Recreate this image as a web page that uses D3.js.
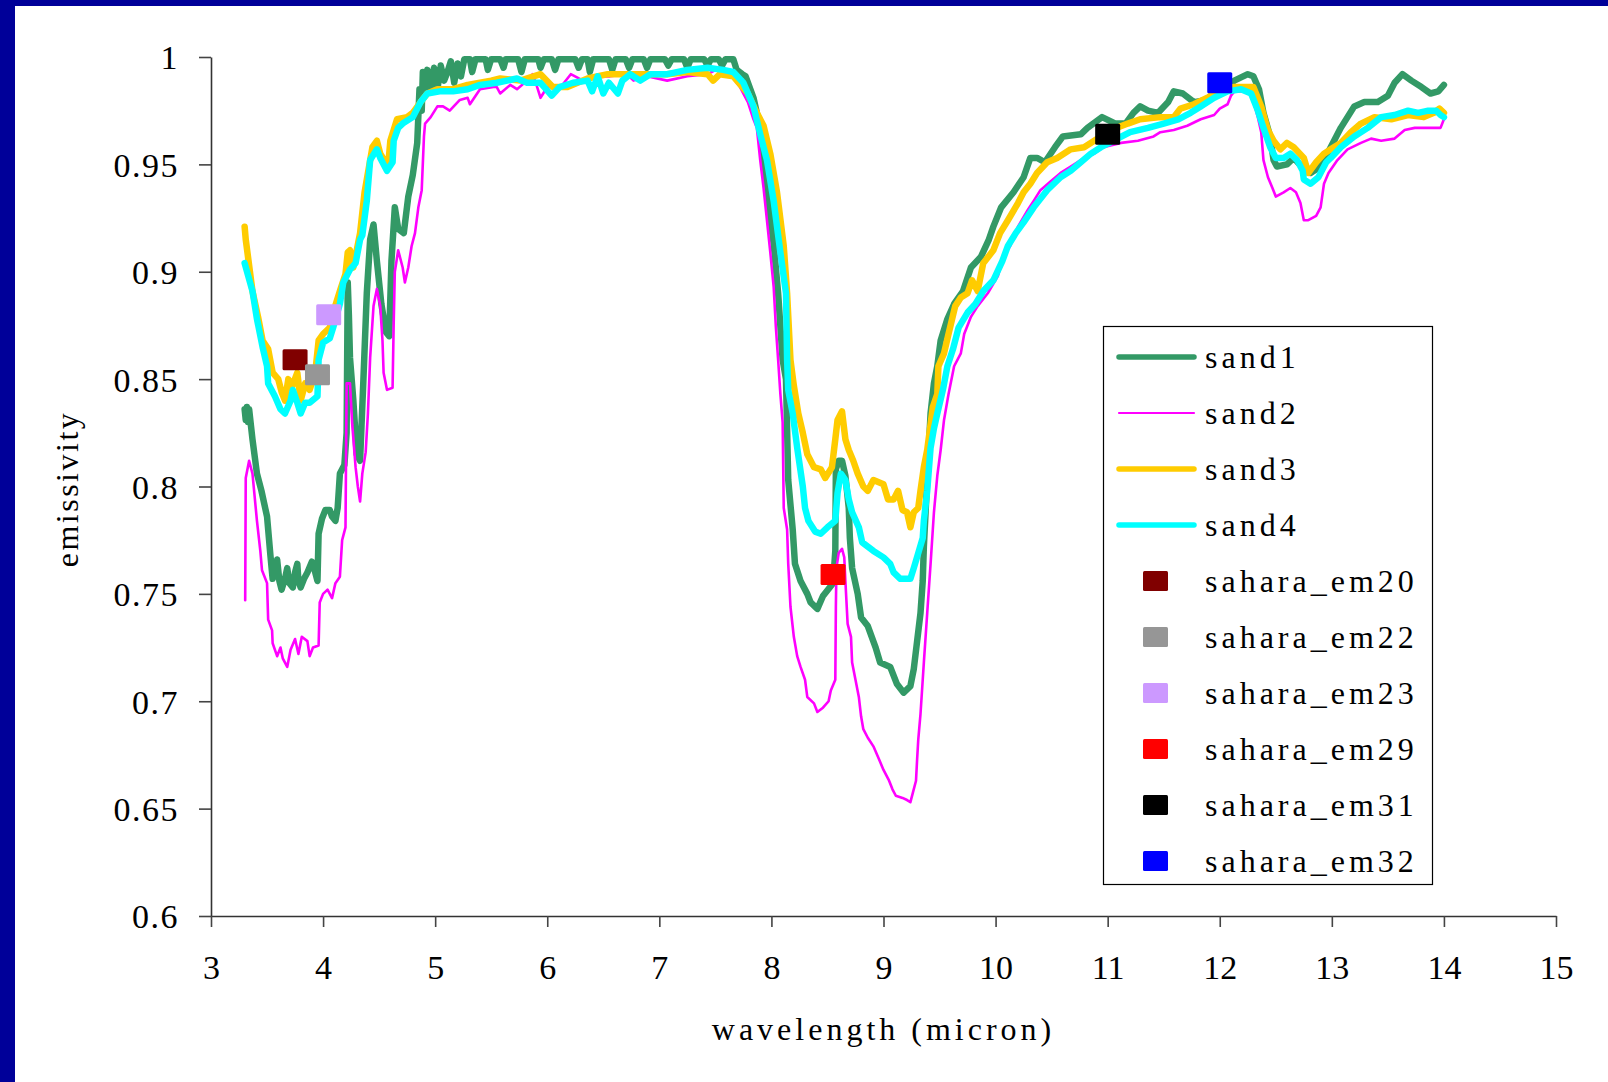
<!DOCTYPE html>
<html><head><meta charset="utf-8">
<script src="https://cdn.jsdelivr.net/npm/d3@7"></script>
<style>body{margin:0;background:#fff} svg{display:block}</style>
</head><body><svg id="c" width="1608" height="1082"></svg>
<script>
// ---------- data ----------
const seriesNames = ["sand1", "sand2", "sand3", "sand4"];
const seriesColors = ["#339966", "#FF00FF", "#FFCC00", "#00FFFF"];

const sand1X = [3.30,3.31,3.32,3.33,3.34,3.37,3.41,3.45,3.50,3.53,3.55,3.57,3.59,3.61,3.63,3.66,3.68,3.70,3.73,3.75,3.77,3.78,3.80,3.83,3.86,3.90,3.93,3.95,3.96,3.99,4.02,4.06,4.08,4.11,4.13,4.15,4.19,4.21,4.22,4.23,4.24,4.27,4.30,4.33,4.36,4.39,4.42,4.45,4.48,4.52,4.56,4.59,4.61,4.64,4.67,4.72,4.76,4.80,4.84,4.86,
  4.88,4.89,4.91,4.93,4.96,4.99,5.02,5.05,5.08,5.11,5.14,5.17,5.20,5.23,5.26,5.31,5.33,5.36,5.45,5.47,5.50,5.58,5.61,5.63,5.74,5.77,5.80,5.92,5.94,5.97,6.04,6.07,6.10,6.25,6.28,6.31,6.36,6.38,6.41,6.55,6.58,6.61,6.70,6.73,6.76,6.86,6.89,6.92,7.05,7.08,7.11,7.22,7.25,7.28,7.40,7.43,7.46,7.53,7.56,7.59,7.66,
  7.69,7.74,7.77,7.84,7.90,7.92,7.96,8.02,8.06,8.10,8.13,8.15,8.19,8.21,8.26,8.32,8.35,8.41,8.46,8.52,8.55,8.57,8.575,8.60,8.63,8.66,8.69,8.70,8.72,8.77,8.80,8.86,8.93,8.97,9.06,9.12,9.18,9.24,9.27,9.30,9.33,9.35,9.36,9.39,9.42,9.45,9.48,9.51,9.57,9.63,9.71,9.78,9.87,9.94,9.98,10.05,10.16,10.25,10.31,10.37,10.44,10.53,10.60,10.76,10.82,10.95,11.07,11.16,11.23,11.29,11.36,11.45,11.54,11.59,11.67,11.77,11.89,12.00,12.13,12.25,12.30,12.35,12.39,12.45,12.48,12.51,12.60,12.66,12.75,12.81,12.90,12.99,13.08,13.14,13.20,13.29,13.41,13.50,13.56,13.63,13.71,13.80,13.88,13.95,14.00];
const sand1Y = [0.836,0.831,0.837,0.830,0.836,0.822,0.806,0.798,0.786,0.768,0.757,0.760,0.766,0.756,0.752,0.757,0.762,0.755,0.753,0.760,0.764,0.756,0.753,0.757,0.760,0.765,0.760,0.756,0.778,0.785,0.789,0.789,0.786,0.784,0.790,0.806,0.810,0.825,0.895,0.880,0.860,0.840,0.815,0.812,0.850,0.890,0.915,0.922,0.905,0.885,0.872,0.870,0.905,0.930,0.920,0.918,0.935,0.945,0.960,0.985,
  0.975,0.993,0.984,0.994,0.986,0.995,0.985,0.996,0.989,0.993,0.998,0.988,0.997,0.991,0.999,0.999,0.993,0.999,0.999,0.994,0.999,0.999,0.995,0.999,0.999,0.993,0.999,0.999,0.995,0.999,0.999,0.994,0.999,0.999,0.995,0.999,0.999,0.993,0.999,0.999,0.994,0.999,0.999,0.995,0.999,0.999,0.995,0.999,0.999,0.996,0.999,0.999,0.995,0.999,0.999,0.996,0.999,0.999,0.996,0.999,0.999,
  0.994,0.992,0.991,0.981,0.967,0.955,0.937,0.913,0.890,0.859,0.850,0.803,0.780,0.764,0.756,0.750,0.746,0.743,0.749,0.753,0.755,0.770,0.808,0.812,0.812,0.805,0.790,0.776,0.762,0.750,0.739,0.735,0.725,0.718,0.716,0.708,0.704,0.707,0.715,0.728,0.741,0.756,0.772,0.803,0.834,0.848,0.856,0.868,0.878,0.885,0.891,0.902,0.907,0.915,0.921,0.930,0.937,0.944,0.953,0.953,0.951,0.958,0.963,0.964,0.967,0.972,0.969,0.969,0.974,0.977,0.975,0.974,0.979,0.984,0.983,0.979,0.980,0.983,0.989,0.992,0.991,0.985,0.974,0.963,0.952,0.949,0.950,0.953,0.948,0.946,0.949,0.958,0.967,0.972,0.977,0.979,0.979,0.982,0.988,0.992,0.989,0.986,0.983,0.984,0.987];

const sand2X = [3.305,3.31,3.34,3.37,3.41,3.44,3.455,3.50,3.51,3.545,3.55,3.59,3.62,3.64,3.68,3.71,3.75,3.78,3.81,3.86,3.88,3.91,3.96,3.97,4.00,4.04,4.08,4.11,4.15,4.17,4.20,4.21,4.24,4.26,4.29,4.31,4.33,4.35,4.38,4.40,4.42,4.45,4.48,4.51,4.53,4.54,4.57,4.62,4.63,4.64,4.67,4.71,4.73,4.76,4.79,4.82,4.85,4.88,4.90,4.91,4.96,5.02,5.07,5.13,5.22,5.29,5.31,5.40,5.52,5.55,5.58,5.67,5.73,5.82,5.87,5.91,5.94,6.00,6.12,6.21,6.32,6.45,6.56,6.71,6.77,6.89,7.07,7.25,7.43,7.54,7.63,7.72,7.79,7.84,7.87,7.90,7.93,7.96,7.99,8.02,8.04,8.06,8.08,8.10,8.11,8.14,8.15,8.17,8.20,8.23,8.26,8.30,8.32,8.38,8.41,8.46,8.51,8.53,8.57,8.575,8.58,8.60,8.63,8.65,8.66,8.68,8.71,8.72,8.75,8.78,8.80,8.82,8.86,8.91,8.96,9.00,9.05,9.08,9.11,9.17,9.21,9.24,9.26,9.29,9.30,9.31,9.33,9.36,9.39,9.42,9.45,9.48,9.51,9.54,9.58,9.63,9.69,9.72,9.78,9.84,9.93,10.02,10.07,10.13,10.20,10.29,10.34,10.40,10.49,10.58,10.67,10.76,10.88,10.96,11.12,11.27,11.41,11.47,11.59,11.71,11.83,11.95,12.00,12.07,12.10,12.13,12.22,12.28,12.34,12.37,12.39,12.43,12.47,12.50,12.57,12.63,12.68,12.72,12.75,12.79,12.86,12.90,12.93,12.97,13.05,13.14,13.26,13.35,13.44,13.56,13.65,13.74,13.82,13.91,13.97,14.00];
const sand2Y = [0.747,0.804,0.812,0.806,0.784,0.770,0.761,0.755,0.738,0.733,0.727,0.721,0.725,0.720,0.716,0.724,0.729,0.722,0.730,0.728,0.721,0.725,0.726,0.746,0.750,0.752,0.748,0.755,0.758,0.775,0.781,0.848,0.848,0.829,0.809,0.800,0.793,0.806,0.816,0.834,0.860,0.884,0.892,0.884,0.868,0.853,0.845,0.846,0.876,0.900,0.910,0.902,0.895,0.902,0.912,0.918,0.930,0.938,0.963,0.969,0.972,0.977,0.977,0.975,0.980,0.981,0.978,0.985,0.986,0.986,0.983,0.987,0.985,0.989,0.992,0.986,0.981,0.986,0.986,0.992,0.989,0.991,0.991,0.992,0.989,0.991,0.989,0.991,0.992,0.995,0.992,0.986,0.979,0.971,0.967,0.952,0.939,0.924,0.909,0.893,0.874,0.859,0.843,0.830,0.790,0.780,0.764,0.744,0.730,0.721,0.716,0.710,0.702,0.699,0.695,0.697,0.700,0.705,0.710,0.744,0.762,0.769,0.771,0.767,0.756,0.736,0.730,0.718,0.710,0.702,0.693,0.687,0.683,0.679,0.673,0.668,0.663,0.659,0.656,0.655,0.654,0.653,0.657,0.663,0.673,0.682,0.694,0.718,0.741,0.764,0.788,0.805,0.817,0.831,0.843,0.856,0.862,0.871,0.879,0.884,0.890,0.898,0.907,0.912,0.921,0.929,0.933,0.938,0.942,0.946,0.949,0.952,0.955,0.958,0.960,0.961,0.963,0.965,0.966,0.968,0.971,0.973,0.976,0.978,0.982,0.984,0.984,0.983,0.972,0.965,0.952,0.944,0.939,0.935,0.937,0.939,0.937,0.932,0.924,0.924,0.926,0.930,0.941,0.946,0.952,0.957,0.960,0.962,0.961,0.962,0.966,0.967,0.967,0.967,0.967,0.971];

const sand3X = [3.30,3.31,3.33,3.37,3.42,3.46,3.51,3.55,3.60,3.63,3.66,3.69,3.72,3.77,3.80,3.84,3.88,3.93,3.96,4.00,4.06,4.09,4.15,4.20,4.22,4.24,4.27,4.33,4.37,4.44,4.48,4.51,4.58,4.60,4.66,4.75,4.80,4.87,4.93,5.02,5.16,5.29,5.40,5.50,5.58,5.76,5.94,6.05,6.18,6.36,6.54,6.71,6.89,7.07,7.25,7.43,7.48,7.54,7.66,7.79,7.87,7.93,7.99,8.05,8.11,8.14,8.17,8.20,8.24,8.28,8.32,8.38,8.44,8.48,8.54,8.57,8.59,8.63,8.66,8.69,8.73,8.77,8.82,8.86,8.91,9.00,9.04,9.09,9.13,9.17,9.21,9.24,9.27,9.31,9.33,9.36,9.39,9.44,9.48,9.49,9.54,9.58,9.64,9.69,9.75,9.79,9.84,9.89,9.98,10.04,10.11,10.20,10.25,10.31,10.37,10.46,10.55,10.67,10.79,10.88,11.03,11.18,11.29,11.47,11.59,11.65,11.77,11.89,12.00,12.13,12.25,12.30,12.37,12.43,12.48,12.54,12.60,12.66,12.75,12.79,12.86,12.93,12.99,13.08,13.17,13.26,13.38,13.53,13.68,13.82,13.91,13.96,14.00];
const sand3Y = [0.921,0.915,0.907,0.891,0.879,0.868,0.864,0.853,0.850,0.844,0.840,0.850,0.846,0.853,0.840,0.848,0.845,0.853,0.868,0.871,0.874,0.881,0.891,0.899,0.909,0.910,0.902,0.918,0.937,0.958,0.961,0.955,0.949,0.961,0.971,0.972,0.974,0.979,0.983,0.985,0.985,0.987,0.988,0.989,0.990,0.989,0.992,0.986,0.986,0.990,0.992,0.992,0.992,0.992,0.993,0.992,0.989,0.992,0.991,0.983,0.974,0.968,0.955,0.937,0.912,0.890,0.859,0.847,0.834,0.825,0.815,0.809,0.808,0.804,0.809,0.822,0.831,0.835,0.822,0.817,0.812,0.806,0.800,0.798,0.803,0.801,0.794,0.794,0.798,0.789,0.788,0.781,0.788,0.790,0.798,0.809,0.817,0.837,0.843,0.856,0.862,0.871,0.884,0.888,0.890,0.896,0.891,0.904,0.910,0.918,0.924,0.932,0.937,0.941,0.946,0.951,0.953,0.957,0.958,0.961,0.966,0.969,0.971,0.972,0.972,0.976,0.978,0.981,0.985,0.986,0.986,0.986,0.977,0.966,0.961,0.957,0.960,0.958,0.953,0.946,0.951,0.955,0.957,0.960,0.965,0.969,0.972,0.971,0.973,0.972,0.974,0.976,0.974];

const sand4X = [3.30,3.37,3.41,3.46,3.50,3.51,3.57,3.62,3.66,3.71,3.73,3.77,3.80,3.84,3.88,3.95,3.96,4.00,4.06,4.09,4.15,4.18,4.24,4.29,4.33,4.35,4.39,4.42,4.48,4.51,4.57,4.62,4.63,4.67,4.71,4.80,4.87,4.93,5.04,5.16,5.29,5.40,5.55,5.73,5.82,5.94,6.04,6.11,6.23,6.36,6.40,6.45,6.50,6.55,6.63,6.67,6.74,6.83,6.92,7.07,7.25,7.43,7.57,7.66,7.75,7.84,7.90,7.96,8.02,8.08,8.13,8.14,8.15,8.19,8.23,8.28,8.30,8.33,8.39,8.44,8.50,8.57,8.59,8.62,8.66,8.69,8.72,8.78,8.81,8.86,8.91,9.00,9.06,9.09,9.15,9.24,9.27,9.31,9.35,9.36,9.39,9.42,9.45,9.48,9.53,9.57,9.62,9.67,9.75,9.82,9.89,9.98,10.06,10.11,10.18,10.25,10.34,10.46,10.58,10.67,10.76,10.85,10.94,11.05,11.20,11.36,11.50,11.63,11.74,11.83,11.95,12.07,12.19,12.28,12.34,12.39,12.45,12.50,12.57,12.63,12.69,12.74,12.75,12.81,12.88,12.95,12.99,13.08,13.20,13.32,13.44,13.56,13.68,13.77,13.86,13.93,13.97,14.00];
const sand4Y = [0.904,0.891,0.878,0.865,0.856,0.848,0.842,0.836,0.834,0.840,0.845,0.839,0.834,0.839,0.839,0.842,0.859,0.867,0.869,0.874,0.885,0.895,0.901,0.904,0.915,0.917,0.933,0.952,0.957,0.953,0.947,0.951,0.961,0.967,0.969,0.972,0.979,0.983,0.984,0.984,0.985,0.987,0.988,0.990,0.988,0.988,0.982,0.986,0.988,0.989,0.984,0.991,0.983,0.988,0.983,0.989,0.992,0.989,0.992,0.992,0.994,0.995,0.994,0.993,0.988,0.977,0.964,0.952,0.933,0.909,0.890,0.859,0.845,0.834,0.818,0.800,0.790,0.784,0.779,0.778,0.781,0.784,0.797,0.806,0.803,0.794,0.788,0.781,0.774,0.772,0.770,0.767,0.764,0.760,0.757,0.757,0.762,0.769,0.776,0.784,0.798,0.818,0.827,0.834,0.845,0.856,0.864,0.874,0.881,0.885,0.891,0.896,0.905,0.912,0.918,0.923,0.930,0.938,0.944,0.947,0.951,0.955,0.958,0.961,0.965,0.967,0.969,0.971,0.974,0.977,0.981,0.984,0.985,0.983,0.975,0.967,0.958,0.953,0.953,0.955,0.952,0.947,0.943,0.941,0.944,0.951,0.953,0.958,0.963,0.967,0.972,0.973,0.975,0.974,0.975,0.975,0.973,0.972];

const markerNames = ["sahara_em20", "sahara_em22", "sahara_em23", "sahara_em29", "sahara_em31", "sahara_em32"];
const markerColors = ["#800000", "#969696", "#CC99FF", "#FF0000", "#000000", "#0000FF"];
const markerX = [3.75, 3.95, 4.05, 8.55, 11.0, 12.0];
const markerY = [0.859, 0.852, 0.880, 0.759, 0.964, 0.988];

const xTicks = [3,4,5,6,7,8,9,10,11,12,13,14,15];
const yTicks = [0.6,0.65,0.7,0.75,0.8,0.85,0.9,0.95,1];
const yTickLabels = ["0.6","0.65","0.7","0.75","0.8","0.85","0.9","0.95","1"];
const xTitle = "wavelength (micron)";
const yTitle = "emissivity";

// ---------- drawing ----------
const svg = d3.select("#c");
const FONT = "'Liberation Serif','Times New Roman',serif";

svg.append("rect").attr("x",0).attr("y",0).attr("width",1608).attr("height",1082).attr("fill","#fff");
svg.append("rect").attr("x",0).attr("y",0).attr("width",1608).attr("height",6).attr("fill","#000099");
svg.append("rect").attr("x",0).attr("y",0).attr("width",15).attr("height",1082).attr("fill","#000099");

const x = d3.scaleLinear().domain([3,15]).range([211,1556]);
const y = d3.scaleLinear().domain([0.6,1]).range([916,57]);

// axes
const gy = svg.append("g").attr("transform","translate(211,0)")
  .call(d3.axisLeft(y).tickValues(yTicks).tickSize(12).tickSizeOuter(0)
    .tickFormat((d,i)=>yTickLabels[i]));
gy.selectAll("text").attr("x",-32).attr("dy","0.35em")
  .style("font-family",FONT).style("font-size","34px").style("letter-spacing","1.5px").attr("fill","#000");
const gx = svg.append("g").attr("transform","translate(0,916)")
  .call(d3.axisBottom(x).tickValues(xTicks).tickSize(11).tickSizeOuter(0).tickFormat(d3.format("d")));
gx.selectAll("text").attr("y",63).attr("dy",0)
  .style("font-family",FONT).style("font-size","34px").attr("fill","#000");
[gx,gy].forEach(g=>{
  g.select(".domain").attr("stroke","#333").attr("stroke-width",1.6);
  g.selectAll(".tick line").attr("stroke","#444").attr("stroke-width",1.6);
});

svg.append("text").attr("x",883.5).attr("y",1040).attr("text-anchor","middle")
  .style("font-family",FONT).style("font-size","32px").style("letter-spacing","4px").text(xTitle);
svg.append("text").attr("transform","translate(78,489) rotate(-90)").attr("text-anchor","middle")
  .style("font-family",FONT).style("font-size","32px").style("letter-spacing","2.5px").text(yTitle);

// series
const seriesX = [sand1X, sand2X, sand3X, sand4X];
const seriesY = [sand1Y, sand2Y, sand3Y, sand4Y];
const widths = [6.5, 2.6, 6.5, 6.5];
const line = d3.line().x(d=>x(d[0])).y(d=>y(d[1]));
seriesNames.forEach((name,i)=>{
  const pts = seriesX[i].map((v,j)=>[v, seriesY[i][j]]);
  svg.append("path").datum(pts).attr("d",line).attr("fill","none")
    .attr("stroke",seriesColors[i]).attr("stroke-width",widths[i])
    .attr("stroke-linejoin","round").attr("stroke-linecap","round");
});

// markers
markerNames.forEach((n,i)=>{
  svg.append("rect").attr("x",x(markerX[i])-12.5).attr("y",y(markerY[i])-10.5)
    .attr("width",25).attr("height",21).attr("rx",1.5).attr("fill",markerColors[i]);
});

// legend
const lg = svg.append("g");
lg.append("rect").attr("x",1103.5).attr("y",326.5).attr("width",329).attr("height",558)
  .attr("fill","#fff").attr("stroke","#000").attr("stroke-width",1.2);
const rowY = i => 357 + i*56;
seriesNames.forEach((n,i)=>{
  lg.append("line").attr("x1",1119).attr("x2",1194).attr("y1",rowY(i)).attr("y2",rowY(i))
    .attr("stroke",seriesColors[i]).attr("stroke-width",widths[i]===2.6?2.2:5.5).attr("stroke-linecap","round");
  lg.append("text").attr("x",1205).attr("y",rowY(i)).attr("dy","0.35em")
    .style("font-family",FONT).style("font-size","32px").style("letter-spacing","4px").text(n);
});
markerNames.forEach((n,i)=>{
  const yy = rowY(i+4);
  lg.append("rect").attr("x",1143).attr("y",yy-10).attr("width",25).attr("height",20).attr("rx",1.5)
    .attr("fill",markerColors[i]);
  lg.append("text").attr("x",1205).attr("y",yy).attr("dy","0.35em")
    .style("font-family",FONT).style("font-size","32px").style("letter-spacing","4px").text(n);
});
</script></body></html>
